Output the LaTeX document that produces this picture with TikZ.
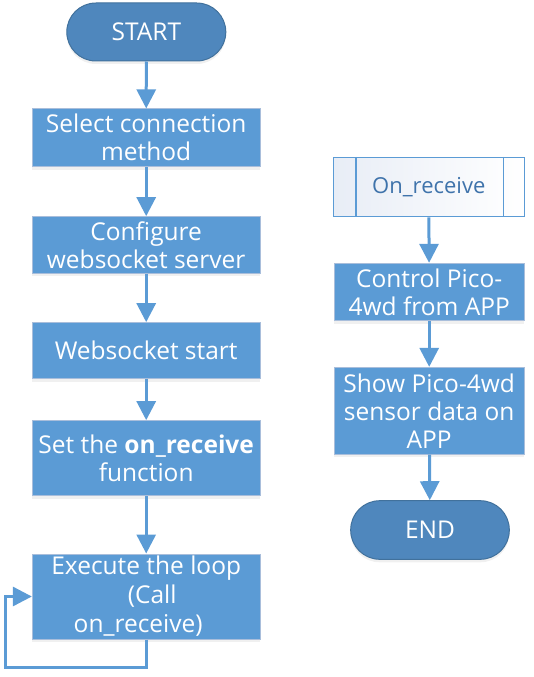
\documentclass[tikz,border=0pt]{standalone}
\usepackage{fontspec}
\setmainfont{Open Sans}
\usetikzlibrary{arrows.meta,shadows,calc}
\definecolor{boxfill}{HTML}{5B9BD5}
\definecolor{boxline}{HTML}{A9BEDB}
\definecolor{termfill}{HTML}{4F87BD}
\definecolor{termline}{HTML}{41719C}
\definecolor{arrowc}{HTML}{5B9BD5}
\definecolor{subtext}{HTML}{3F73AB}
\definecolor{subleft}{HTML}{E8EDF6}
\begin{document}
\begin{tikzpicture}[x=1pt,y=-1pt,
  txt/.style={font=\fontsize{24.5}{28}\selectfont, text=white, align=center, inner sep=0pt},
  procbox/.style={txt, draw=boxline, line width=1pt, fill=boxfill, minimum width=227.7pt,
     drop shadow={opacity=0.12, shadow xshift=0pt, shadow yshift=-3pt}},
  rbox/.style={procbox, minimum width=189.7pt},
  term/.style={txt, draw=termline, line width=1pt, fill=termfill, rounded corners=29pt,
     drop shadow={opacity=0.12, shadow xshift=0pt, shadow yshift=-3pt}},
  flow/.style={draw=arrowc, line width=3pt, -{Triangle[width=19pt,length=19pt]}}
]
\useasboundingbox (0,0) rectangle (533,677);
% left column
\node[term, minimum width=159pt, minimum height=58pt] (start) at (146.3,32) {START};
\node[procbox, minimum height=57.7pt] (b1) at (146.2,137.8) {Select connection\\method};
\node[procbox, minimum height=56.7pt] (b2) at (146.2,245) {Configure\\websocket server};
\node[procbox, minimum height=56.3pt] (b3) at (146.2,350.8) {Websocket start};
\node[procbox, minimum height=75.3pt] (b4) at (146.2,458.3) {Set the \textbf{on\_receive}\\function};
\node[procbox, minimum height=85pt, font=\fontsize{24.5}{29}\selectfont] (b5) at (146.2,596.5)
  {Execute the loop\\\hspace*{12pt}(Call\\on\_receive)\hspace*{16pt}};
\coordinate (loopc) at (5,667.7);
\draw[flow] (start) -- (b1);
\draw[flow] (b1) -- (b2);
\draw[flow] (b2) -- (b3);
\draw[flow] (b3) -- (b4);
\draw[flow] (b4) -- (b5);
\draw[flow] (b5.south) |- (loopc) |- (b5.west);
% right column
\node[draw=arrowc, line width=1.5pt, left color=subleft, right color=white,
      minimum width=191pt, minimum height=59pt, inner sep=0pt,
      font=\fontsize{22}{26}\selectfont, text=subtext] (sub) at (428.8,187.2) {On\_receive};
\draw[arrowc, line width=1.5pt] ($(sub.north west)+(23.4,0)$) -- ($(sub.south west)+(23.4,0)$);
\draw[arrowc, line width=1.5pt] ($(sub.north east)+(-21.6,0)$) -- ($(sub.south east)+(-21.6,0)$);
\node[rbox, minimum height=57.4pt] (r1) at (429.2,292) {Control Pico-\\4wd from APP};
\node[rbox, minimum height=86.7pt] (r2) at (429.2,410.7) {Show Pico-4wd\\sensor data on\\APP};
\node[term, minimum width=158.6pt, minimum height=58.6pt] (end) at (430,530) {END};
\draw[flow] (sub) -- (r1);
\draw[flow] (r1) -- (r2);
\draw[flow] (r2) -- (end);
\end{tikzpicture}
\end{document}
